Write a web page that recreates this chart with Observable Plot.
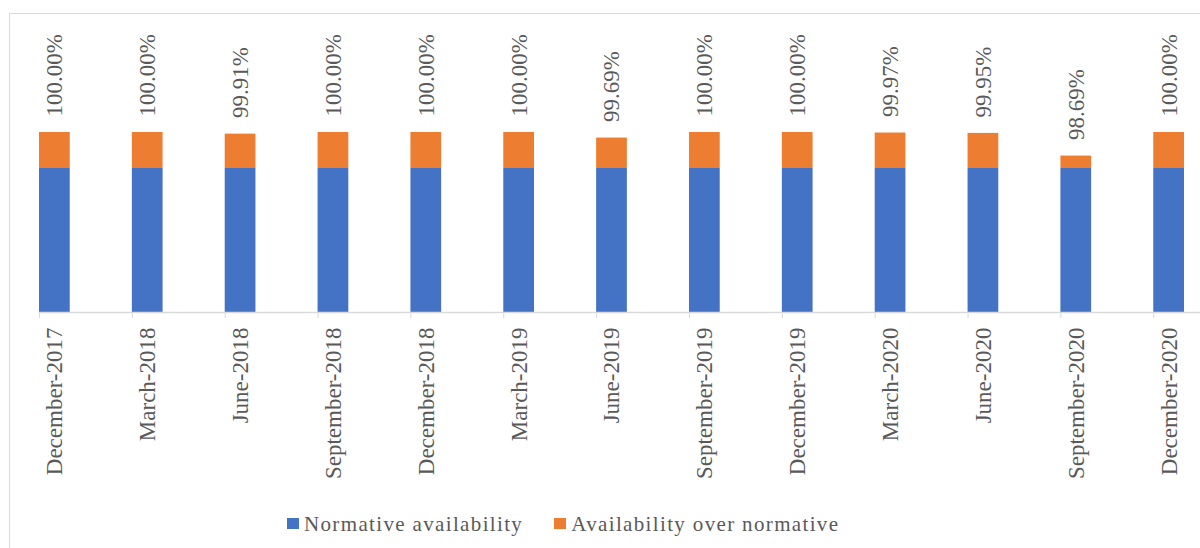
<!DOCTYPE html>
<html>
<head>
<meta charset="utf-8">
<script src="https://cdn.jsdelivr.net/npm/d3@7"></script>
<script src="https://cdn.jsdelivr.net/npm/@observablehq/plot@0.6"></script>
<style>
  html, body { margin: 0; padding: 0; background: #fff; width: 1200px; height: 548px; overflow: hidden; }
  #frame { position: absolute; left: 9px; top: 13px; width: 1400px; height: 800px; border: 1px solid #d9d9d9; box-sizing: border-box; }
  #wrap { position: absolute; left: 0; top: 0; width: 1200px; }
  #chart svg { display: block; }
  .legend { display: flex; align-items: center; padding-left: 287px; height: 30px; line-height: 30px; margin-top: -1px;
            font-family: "Liberation Serif", "Times New Roman", serif; font-size: 21px; letter-spacing: 1.35px; color: #595959; }
  .sw { width: 12px; height: 11px; margin-right: 5px; margin-bottom: 2px; }
  .item { display: flex; align-items: center; }
</style>
</head>
<body>
<div id="frame"></div>
<div id="wrap"><div id="chart"></div>
  <div class="legend" id="legend"></div>
</div>
<script>
const categories = ["December-2017","March-2018","June-2018","September-2018","December-2018","March-2019","June-2019","September-2019","December-2019","March-2020","June-2020","September-2020","December-2020"];
const seriesNames = ["Normative availability", "Availability over normative"];
const seriesColors = ["#4472C4", "#ED7D31"];
const normative = [98, 98, 98, 98, 98, 98, 98, 98, 98, 98, 98, 98, 98];
const totals = [100.00, 100.00, 99.91, 100.00, 100.00, 100.00, 99.69, 100.00, 100.00, 99.97, 99.95, 98.69, 100.00];

const rows = categories.flatMap((c, i) => [
  {cat: c, series: seriesNames[0], value: normative[i]},
  {cat: c, series: seriesNames[1], value: totals[i] - normative[i]}
]);
const labelRows = categories.map((c, i) => ({cat: c, total: totals[i]}));
const fmt = d3.format(".2f");
const font = "'Liberation Serif', 'Times New Roman', serif";

const chart = Plot.plot({
  width: 1200,
  height: 510,
  marginLeft: 39,
  marginRight: 16,
  marginTop: 114,
  marginBottom: 198,
  style: {fontFamily: font, background: "transparent", color: "#595959"},
  x: {domain: categories, paddingInner: 0.669, paddingOuter: 0, align: 0, round: false, axis: null},
  y: {domain: [90, 101], axis: null},
  color: {domain: seriesNames, range: seriesColors},
  marks: [
    Plot.barY(rows, Plot.stackY({x: "cat", y: "value", fill: "series", clip: true})),
    Plot.ruleY([90], {stroke: "#d9d9d9", strokeWidth: 1.3, insetRight: -16}),
    Plot.axisX({tickSize: 6, tickFormat: () => "", label: null, stroke: "#d9d9d9", dx: -15.37}),
    Plot.text(categories, {x: d => d, frameAnchor: "bottom", rotate: -90, textAnchor: "end", lineAnchor: "middle",
      dy: 15, fontSize: 23, fill: "#595959"}),
    Plot.text(labelRows, {x: "cat", y: "total", text: d => fmt(d.total) + "%", rotate: -90, textAnchor: "start",
      lineAnchor: "middle", dy: -16, fontSize: 23, fill: "#595959"})
  ]
});
document.getElementById("chart").appendChild(chart);

const legend = document.getElementById("legend");
seriesNames.forEach((name, i) => {
  const item = document.createElement("div");
  item.className = "item";
  if (i > 0) item.style.marginLeft = "31px";
  const sw = document.createElement("div");
  sw.className = "sw";
  sw.style.background = seriesColors[i];
  const t = document.createElement("span");
  t.textContent = name;
  item.appendChild(sw);
  item.appendChild(t);
  legend.appendChild(item);
});
</script>
</body>
</html>
